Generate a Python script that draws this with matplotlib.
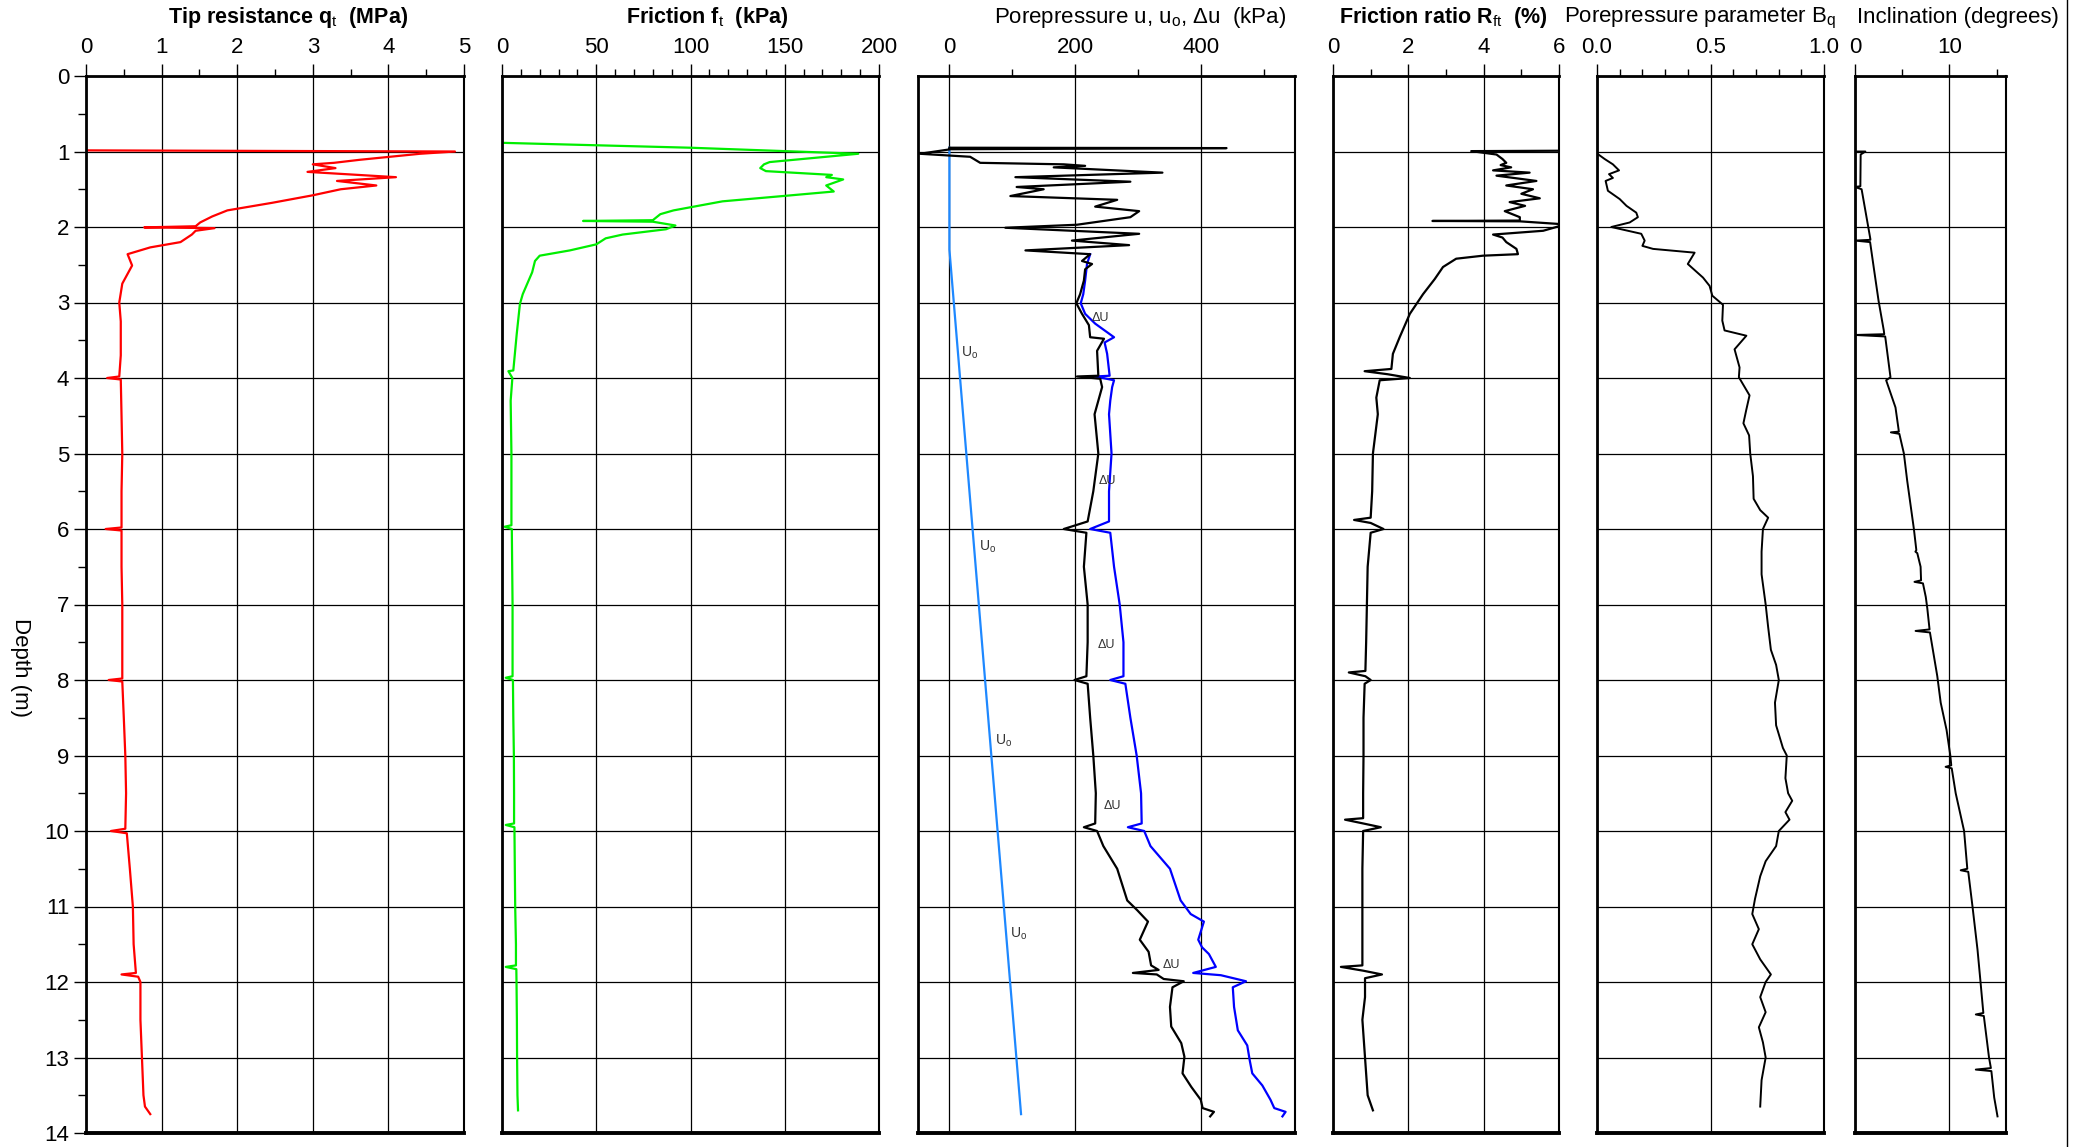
import numpy as np
import matplotlib.pyplot as plt
from matplotlib.lines import Line2D
from matplotlib.ticker import MultipleLocator, FormatStrFormatter

plt.rcParams['font.family'] = ['Liberation Sans', 'DejaVu Sans']
plt.rcParams['mathtext.fontset'] = 'custom'
plt.rcParams['mathtext.rm'] = 'Liberation Sans'
plt.rcParams['mathtext.it'] = 'Liberation Sans'

# tip resistance qt (MPa)
qt_depth = [0.985, 1.0, 1.03, 1.11, 1.15, 1.17, 1.22, 1.27, 1.34, 1.39, 1.45, 1.50,
            1.58, 1.68, 1.78, 1.86, 1.94, 1.99, 2.005, 2.015, 2.05, 2.10, 2.20, 2.27,
            2.36, 2.51, 2.75, 3.0, 3.25, 3.46, 3.7, 3.98, 4.0, 4.02, 4.5, 5.0, 5.5,
            5.98, 6.0, 6.02, 6.5, 7.0, 7.5, 7.98, 8.0, 8.02, 8.5, 9.0, 9.5, 9.97,
            10.0, 10.03, 10.5, 11.0, 11.5, 11.88, 11.9, 11.93, 12.0, 12.5, 13.0,
            13.5, 13.65, 13.75]
qt_value = [0.0, 4.88, 4.42, 3.62, 3.28, 3.0, 3.3, 2.93, 4.1, 3.32, 3.84, 3.37,
            3.0, 2.46, 1.87, 1.67, 1.51, 1.45, 0.77, 1.70, 1.45, 1.40, 1.25, 0.85,
            0.55, 0.61, 0.48, 0.44, 0.46, 0.46, 0.46, 0.44, 0.28, 0.46, 0.47, 0.48, 0.47,
            0.47, 0.26, 0.47, 0.47, 0.48, 0.48, 0.48, 0.30, 0.48, 0.50, 0.52, 0.53, 0.52,
            0.33, 0.54, 0.58, 0.62, 0.63, 0.66, 0.47, 0.69, 0.72, 0.72, 0.74,
            0.76, 0.78, 0.85]

# sleeve friction ft (kPa)
ft_depth = [0.885, 0.95, 1.03, 1.14, 1.17, 1.22, 1.26, 1.31, 1.34, 1.37, 1.45, 1.53,
            1.59, 1.66, 1.78, 1.83, 1.91, 1.92, 1.93, 1.98, 2.03, 2.10, 2.15, 2.23,
            2.31, 2.38, 2.45, 2.6, 2.89, 3.02, 3.42, 3.9, 3.91, 4.0, 4.3, 5.0, 5.5,
            5.95, 5.97, 6.0, 6.5, 7.0, 7.5, 7.95, 7.97, 8.0, 8.5, 9.0, 9.5, 9.9,
            9.92, 9.95, 10.5, 11.0, 11.5, 11.78, 11.8, 11.83, 12.0, 12.5, 13.0,
            13.5, 13.7]
ft_value = [0, 100, 189, 142, 139, 137, 140, 175, 172, 181, 172, 176,
            149, 117, 91, 84, 80, 43, 80, 92, 87, 64, 55, 50,
            36, 20, 17.5, 16, 11, 9.5, 7.8, 6, 3.4, 5.5, 4.6, 5.0, 5.0,
            5.0, 1.4, 5.2, 5.4, 5.6, 5.6, 5.6, 2.0, 5.8, 6.0, 6.3, 6.4, 6.4,
            2.0, 6.6, 6.8, 7.0, 7.4, 7.4, 2.0, 7.6, 7.7, 7.9, 8.0,
            8.2, 8.5]

# excess pore pressure du (kPa)
du_depth = [0.95, 0.955, 0.97, 1.03, 1.07, 1.15, 1.17, 1.19, 1.21, 1.28, 1.34, 1.40,
            1.47, 1.50, 1.59, 1.64, 1.73, 1.79, 1.87, 1.97, 2.01, 2.09, 2.18, 2.24,
            2.31, 2.36, 2.45, 2.49, 2.56, 2.71, 2.89, 3.01, 3.15, 3.30, 3.46, 3.48,
            3.64, 3.97, 3.98, 4.01, 4.12, 4.48, 5.0, 5.5, 5.9, 6.0, 6.05, 6.5, 7.0,
            7.5, 7.95, 8.0, 8.05, 8.5, 9.0, 9.5, 9.9, 9.95, 10.0, 10.2, 10.5, 10.92,
            11.05, 11.2, 11.44, 11.6, 11.78, 11.84, 11.88, 11.9, 11.96, 11.99, 12.07,
            12.33, 12.59, 12.81, 12.99, 13.21, 13.39, 13.56, 13.67, 13.72, 13.78]
du_value = [0, 441, 2, -47, 33, 49, 182, 216, 166, 339, 105, 288,
            107, 150, 97, 267, 232, 302, 288, 203, 89, 302, 195, 286,
            121, 224, 211, 227, 216, 214, 208, 202, 211, 222, 224, 246,
            235, 237, 203, 240, 243, 231, 237, 229, 220, 182, 218, 214, 220,
            220, 218, 199, 220, 224, 229, 233, 232, 214, 235, 245, 267, 283,
            299, 316, 303, 317, 321, 333, 292, 330, 341, 373, 355,
            351, 353, 369, 374, 371, 385, 400, 403, 421, 415]

# measured pore pressure u (kPa)
u_depth = [2.36, 2.49, 2.71, 2.89, 3.01, 3.15, 3.28, 3.46, 3.53, 3.68, 3.97, 3.98,
           4.03, 4.12, 4.30, 4.48, 5.0, 5.5, 5.9, 6.0, 6.05, 6.5, 7.0, 7.5, 7.95,
           8.0, 8.05, 8.5, 9.0, 9.5, 9.9, 9.95, 10.0, 10.2, 10.5, 10.92, 11.1, 11.2,
           11.44, 11.54, 11.63, 11.8, 11.88, 11.91, 11.99, 12.07, 12.33, 12.64,
           12.84, 13.04, 13.21, 13.37, 13.56, 13.67, 13.72, 13.78]
u_value = [224, 219, 216, 213, 209, 216, 232, 262, 247, 251, 255, 232,
           262, 259, 256, 254, 258, 254, 254, 224, 256, 262, 271, 277, 277,
           256, 280, 288, 298, 305, 306, 284, 310, 320, 351, 368, 384, 405,
           396, 402, 413, 424, 388, 432, 472, 451, 453, 459,
           474, 478, 482, 498, 511, 517, 535, 530]

# hydrostatic pore pressure u0 (kPa)
u0_depth = [0.95, 2.3, 13.75]
u0_value = [0, 0, 114]

# friction ratio Rf (%)
rf_depth = [0.99, 0.995, 1.04, 1.10, 1.15, 1.18, 1.21, 1.25, 1.28, 1.32, 1.39, 1.45,
            1.50, 1.56, 1.62, 1.67, 1.72, 1.79, 1.87, 1.915, 1.92, 1.925, 1.96, 1.99,
            2.05, 2.10, 2.14, 2.20, 2.29, 2.36, 2.38, 2.42, 2.53, 2.69, 2.89, 3.15,
            3.46, 3.68, 3.88, 3.91, 3.95, 4.0, 4.03, 4.26, 4.48, 5.0, 5.5, 5.85,
            5.88, 5.92, 6.0, 6.05, 6.5, 7.0, 7.5, 7.88, 7.9, 7.95, 8.0, 8.05, 8.5,
            9.0, 9.5, 9.83, 9.85, 9.9, 9.95, 10.0, 10.5, 11.0, 11.5, 11.78, 11.8,
            11.85, 11.9, 11.95, 12.2, 12.5, 13.0, 13.5, 13.7]
rf_value = [6.0, 3.67, 4.34, 4.5, 4.6, 4.45, 4.73, 4.25, 5.22, 4.34, 5.4, 4.6,
            5.31, 5.0, 5.49, 4.69, 5.1, 4.56, 4.96, 4.96, 2.64, 4.96, 6.0, 6.0,
            5.58, 4.25, 4.5, 4.6, 4.87, 4.91, 3.98, 3.27, 2.92, 2.7, 2.39, 2.04,
            1.77, 1.59, 1.55, 0.84, 1.45, 2.04, 1.24, 1.15, 1.19, 1.06, 1.04, 1.0,
            0.56, 1.0, 1.34, 1.0, 0.92, 0.9, 0.88, 0.86, 0.42, 0.86, 1.0, 0.84, 0.81,
            0.81, 0.8, 0.8, 0.32, 0.8, 1.27, 0.8, 0.78, 0.78, 0.78, 0.78, 0.21,
            0.8, 1.3, 0.85, 0.85, 0.78, 0.85, 0.92, 1.06]

# pore pressure parameter Bq
bq_depth = [1.035, 1.10, 1.17, 1.25, 1.30, 1.35, 1.39, 1.52, 1.63, 1.72, 1.81, 1.87,
            1.94, 2.0, 2.09, 2.18, 2.25, 2.29, 2.34, 2.49, 2.67, 2.78, 2.91, 3.03,
            3.24, 3.37, 3.44, 3.62, 3.86, 3.99, 4.23, 4.43, 4.6, 4.76, 5.0, 5.3,
            5.6, 5.75, 5.85, 6.0, 6.3, 6.6, 7.0, 7.3, 7.6, 7.8, 8.0, 8.3, 8.6,
            8.9, 9.0, 9.3, 9.5, 9.6, 9.75, 9.85, 10.0, 10.2, 10.4, 10.6, 10.9,
            11.1, 11.3, 11.5, 11.7, 11.9, 12.0, 12.2, 12.4, 12.6, 12.8, 13.0,
            13.3, 13.65]
bq_value = [0.004, 0.034, 0.07, 0.097, 0.053, 0.07, 0.038, 0.048, 0.10, 0.13, 0.173, 0.18,
            0.144, 0.063, 0.195, 0.21, 0.20, 0.247, 0.43, 0.40, 0.467, 0.496, 0.508, 0.555,
            0.552, 0.562, 0.658, 0.606, 0.628, 0.625, 0.672, 0.657, 0.645, 0.67, 0.675, 0.687,
            0.690, 0.719, 0.754, 0.731, 0.725, 0.725, 0.743, 0.754, 0.766, 0.789, 0.801, 0.784, 0.789,
            0.819, 0.836, 0.830, 0.842, 0.860, 0.830, 0.848, 0.801, 0.789, 0.743, 0.719, 0.696,
            0.684, 0.713, 0.684, 0.719, 0.766, 0.743, 0.719, 0.743, 0.713, 0.731, 0.743,
            0.725, 0.719]

# inclination (degrees)
inc_depth = [1.0, 1.0, 1.04, 1.43, 1.46, 1.47, 1.50, 2.16, 2.17, 2.18, 2.20, 2.54,
             2.98, 3.37, 3.42, 3.43, 3.45, 3.99, 4.03, 4.39, 4.71, 4.72, 4.74, 5.0,
             5.36, 6.0, 6.28, 6.3, 6.32, 6.5, 6.68, 6.7, 6.72, 6.9, 7.05, 7.33, 7.35,
             7.37, 7.95, 8.3, 8.66, 9.0, 9.13, 9.15, 9.17, 9.5, 10.0, 10.5, 10.52,
             10.54, 11.0, 11.57, 12.0, 12.41, 12.43, 12.45, 13.0, 13.14, 13.16, 13.18,
             13.53, 13.78]
inc_value = [0.0, 1.1, 0.6, 0.57, 0.57, 0.0, 0.7, 1.63, 1.63, 0.0, 1.6, 1.99,
             2.5, 3.05, 3.1, 0.0, 3.2, 3.76, 3.3, 4.29, 4.65, 3.8, 4.7, 5.18,
             5.53, 6.24, 6.5, 6.4, 6.6, 6.95, 7.0, 6.3, 7.2, 7.5, 7.66, 7.9, 6.42,
             7.94, 8.72, 9.08, 9.7, 10.1, 10.2, 9.6, 10.25, 10.67, 11.56, 11.9, 11.2,
             12.0, 12.45, 12.98, 13.3, 13.6, 12.8, 13.65, 14.2, 14.4, 12.8, 14.45,
             14.75, 15.1]

# labels along the pore pressure curves
uo_label_depth = [3.66, 6.24, 8.81, 11.36]
uo_label_x = [19, 47, 72, 97]
du_label_depth = [3.2, 5.36, 7.53, 9.67, 11.78]
du_label_x = [226, 238, 236, 245, 340]

W, H = 2083, 1147
fig = plt.figure(figsize=(W / 100, H / 100), dpi=100)

panels = [(86, 464), (502, 879), (918, 1295), (1333, 1559), (1597, 1824), (1855, 2006)]
top_px, bot_px = 76, 1133

titles = [r'Tip resistance q$_\mathrm{t}$  (MPa)', r'Friction f$_\mathrm{t}$  (kPa)',
          r'Porepressure u, u$_\mathrm{o}$, Δu  (kPa)', r'Friction ratio R$_\mathrm{ft}$  (%)',
          r'Porepressure parameter B$_\mathrm{q}$', 'Inclination (degrees)']
title_x = [288, 707, 1140, 1443, 1700, 1958]
title_bold = [True, True, False, True, False, False]
xlims = [(0, 5), (0, 200), (-50, 550), (0, 6), (0, 1), (0, 16)]
majors = [1, 50, 200, 2, 0.5, 10]
minors = [0.5, 10, 100, 1, 0.1, 5]

axes = []
for i, (x0, x1) in enumerate(panels):
    ax = fig.add_axes([x0 / W, 1 - bot_px / H, (x1 - x0) / W, (bot_px - top_px) / H])
    ax.set_xlim(*xlims[i])
    ax.set_ylim(14, 0)
    ax.xaxis.set_ticks_position('top')
    ax.xaxis.set_major_locator(MultipleLocator(majors[i]))
    ax.xaxis.set_minor_locator(MultipleLocator(minors[i]))
    ax.yaxis.set_major_locator(MultipleLocator(1))
    ax.yaxis.set_minor_locator(MultipleLocator(0.5))
    ax.tick_params(axis='x', which='major', length=9, width=1, labelsize=16, pad=4)
    ax.tick_params(axis='x', which='minor', length=5, width=1)
    if i == 0:
        ax.tick_params(axis='y', which='major', length=9, width=1, labelsize=16, pad=3)
        ax.tick_params(axis='y', which='minor', length=6, width=1)
    else:
        ax.tick_params(axis='y', which='both', left=False, labelleft=False)
    ax.grid(True, which='major', color='black', lw=0.9)
    ax.set_axisbelow(True)
    ax.spines['top'].set_linewidth(2)
    ax.spines['left'].set_linewidth(2)
    ax.spines['bottom'].set_linewidth(2.8)
    ax.spines['right'].set_linewidth(1.5)
    if title_bold[i]:
        fig.text(title_x[i] / W, 1 - 18 / H, titles[i], ha='center', va='center',
                 fontsize=15.5, fontweight='bold')
    else:
        fig.text(title_x[i] / W, 1 - 18 / H, titles[i], ha='center', va='center', fontsize=16)
    axes.append(ax)

axes[4].xaxis.set_major_formatter(FormatStrFormatter('%.1f'))

axes[0].plot(qt_value, qt_depth, color='#ff0000', lw=1.6)
axes[1].plot(ft_value, ft_depth, color='#00ee00', lw=1.6)
axes[2].plot(u0_value, u0_depth, color='#1e88ff', lw=1.6)
axes[2].plot(u_value, u_depth, color='#0000ff', lw=1.6)
axes[2].plot(du_value, du_depth, color='black', lw=1.6)
axes[3].plot(rf_value, rf_depth, color='black', lw=1.6)
axes[4].plot(bq_value, bq_depth, color='black', lw=1.4)
axes[5].plot(inc_value, inc_depth, color='black', lw=1.4)

for d, x in zip(uo_label_depth, uo_label_x):
    axes[2].text(x, d, r'U$_\mathrm{o}$', fontsize=10, color='#333333', ha='left', va='center')
for d, x in zip(du_label_depth, du_label_x):
    axes[2].text(x, d, 'ΔU', fontsize=9, color='#333333', ha='left', va='center')

fig.text(20 / W, 1 - 668 / H, 'Depth (m)', rotation=270, ha='center', va='center', fontsize=16)
fig.add_artist(Line2D([2067 / W, 2067 / W], [0, 1], color='black', lw=1))

fig.savefig('out.png', dpi=100)
